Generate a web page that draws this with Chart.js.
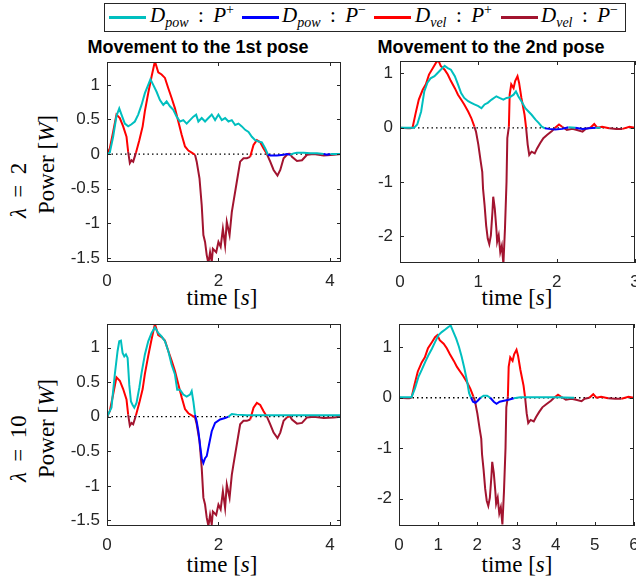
<!DOCTYPE html>
<html lang="en">
<head>
<meta charset="UTF-8" />
<title>Power - D_pow vs D_vel</title>
<script src="https://cdn.jsdelivr.net/npm/chart.js"></script>
<style>
  body { margin: 0; width: 636px; height: 581px; overflow: hidden; background: #fff; position: relative; font-family: "Liberation Sans", Arial, sans-serif; }
  .plot { position: absolute; }
  .legend { position: absolute; left: 104px; top: 3px; width: 520px; height: 27px; border: 1px solid #262626; background: #fff; }
  .sw { position: absolute; top: 12px; height: 3px; width: 37px; }
  .lt { position: absolute; top: -2px; font-family: "Liberation Serif", serif; font-size: 21px; line-height: 27px; white-space: nowrap; color: #000; }
  .lt sub, .lt sup { font-size: 14px; line-height: 0; }
  .lt sub { font-style: italic; }
  .title { position: absolute; top: 37px; font-weight: bold; font-size: 18px; line-height: 20px; white-space: nowrap; transform: translateX(-50%); color: #000; }
  .xl { position: absolute; font-family: "Liberation Serif", serif; font-size: 23px; line-height: 26px; white-space: nowrap; transform: translateX(-50%); color: #000; }
  .yl { position: absolute; font-family: "Liberation Serif", serif; font-size: 23px; line-height: 26px; white-space: nowrap; transform-origin: 0 0; transform: rotate(-90deg); color: #000; }
</style>
</head>
<body>
  <div class="legend">
    <span class="sw" style="left:4px;background:#00bfbf"></span>
    <span class="lt" style="left:45px"><i>D</i><sub>pow</sub> &thinsp;:&thinsp; <i>P</i><sup>+</sup></span>
    <span class="sw" style="left:137px;background:#0000ff"></span>
    <span class="lt" style="left:177px"><i>D</i><sub>pow</sub> &thinsp;:&thinsp; <i>P</i><sup>&minus;</sup></span>
    <span class="sw" style="left:269px;background:#ff0000"></span>
    <span class="lt" style="left:310px"><i>D</i><sub>vel</sub> &thinsp;:&thinsp; <i>P</i><sup>+</sup></span>
    <span class="sw" style="left:396px;background:#a2142f"></span>
    <span class="lt" style="left:436px"><i>D</i><sub>vel</sub> &thinsp;:&thinsp; <i>P</i><sup>&minus;</sup></span>
  </div>

  <div class="title" style="left:198px">Movement to the 1st pose</div>
  <div class="title" style="left:491px">Movement to the 2nd pose</div>

  <div class="yl" style="left:6px;top:218px"><i>&lambda;</i> &thinsp;= &thinsp;2</div>
  <div class="yl" style="left:34px;top:214px">Power [<i>W</i>]</div>
  <div class="yl" style="left:6px;top:482px"><i>&lambda;</i> &thinsp;= &thinsp;10</div>
  <div class="yl" style="left:34px;top:478px">Power [<i>W</i>]</div>

  <div class="xl" style="left:222px;top:285px">time [<i>s</i>]</div>
  <div class="xl" style="left:517px;top:285px">time [<i>s</i>]</div>
  <div class="xl" style="left:222px;top:552px">time [<i>s</i>]</div>
  <div class="xl" style="left:517px;top:552px">time [<i>s</i>]</div>

  <div class="plot" id="p1"><canvas id="c1"></canvas></div>
  <div class="plot" id="p2"><canvas id="c2"></canvas></div>
  <div class="plot" id="p3"><canvas id="c3"></canvas></div>
  <div class="plot" id="p4"><canvas id="c4"></canvas></div>

<script>
// ---- data (time in s, power in W) ----

// lambda = 2, 1st pose
const powTime1 = [0, 0.05, 0.11, 0.17, 0.22, 0.26, 0.32, 0.38, 0.44, 0.50,
  0.56, 0.62, 0.68, 0.74, 0.78, 0.83, 0.89, 0.95, 1.01, 1.07,
  1.13, 1.19, 1.25, 1.31, 1.37, 1.43, 1.49, 1.55, 1.60, 1.64,
  1.70, 1.76, 1.82, 1.88, 1.94, 2.00, 2.06, 2.12, 2.18, 2.24,
  2.30, 2.36, 2.42, 2.48, 2.54, 2.60, 2.66, 2.72, 2.78, 2.84,
  2.89, 2.93, 3.05, 3.17, 3.23, 3.29, 3.35, 3.41, 3.53, 3.65,
  3.77, 3.89, 3.95, 4.01, 4.20];
const powPower1 = [0, 0.02, 0.25, 0.55, 0.66, 0.57, 0.44, 0.40, 0.43, 0.47,
  0.57, 0.71, 0.88, 1.00, 1.08, 1.00, 0.90, 0.78, 0.71, 0.76,
  0.69, 0.64, 0.54, 0.47, 0.49, 0.44, 0.49, 0.54, 0.57, 0.47,
  0.52, 0.47, 0.52, 0.57, 0.49, 0.57, 0.49, 0.52, 0.47, 0.49,
  0.42, 0.44, 0.40, 0.35, 0.32, 0.25, 0.20, 0.18, 0.17, 0.08,
  -0.01, -0.02, -0.02, -0.01, 0, -0.01, 0.01, 0.02, 0.02, 0.01,
  0.01, 0, -0.01, 0, 0];

// D_vel, 1st pose (same trace in both rows)
const velTime1 = [0, 0.05, 0.11, 0.17, 0.23, 0.29, 0.35, 0.38, 0.41, 0.44,
  0.47, 0.52, 0.58, 0.64, 0.68, 0.74, 0.80, 0.86, 0.92, 0.98,
  1.04, 1.10, 1.16, 1.22, 1.28, 1.34, 1.40, 1.46, 1.52, 1.58,
  1.61, 1.66, 1.70, 1.73, 1.76, 1.79, 1.82, 1.85, 1.88, 1.90,
  1.96, 2.00, 2.04, 2.08, 2.12, 2.15, 2.20, 2.24, 2.27, 2.33,
  2.39, 2.45, 2.51, 2.57, 2.63, 2.69, 2.75, 2.81, 2.87, 2.93,
  2.99, 3.06, 3.11, 3.17, 3.23, 3.28, 3.32, 3.41, 3.50, 3.59,
  3.71, 3.89, 4.07, 4.20];
const velPower1 = [0, 0.08, 0.32, 0.57, 0.52, 0.40, 0.25, 0.03, -0.13, -0.09,
  -0.11, 0.02, 0.20, 0.40, 0.62, 0.88, 1.12, 1.34, 1.18, 1.15,
  1.10, 0.95, 0.81, 0.66, 0.47, 0.28, 0.11, 0.05, 0.02, -0.01,
  -0.11, -0.35, -0.74, -1.17, -1.27, -1.46, -1.58, -1.42, -1.56, -1.37,
  -1.42, -1.27, -1.34, -1.08, -1.32, -0.98, -1.17, -0.84, -0.69, -0.40,
  -0.11, -0.06, -0.06, -0.04, 0.13, 0.20, 0.17, 0.08, 0, -0.11,
  -0.23, -0.31, -0.23, -0.06, -0.01, 0.01, -0.04, -0.10, -0.09, -0.01,
  0, -0.02, -0.01, 0];

// lambda = 2, 2nd pose
const powTime2 = [0, 0.18, 0.22, 0.27, 0.31, 0.35, 0.39, 0.44, 0.48, 0.52,
  0.57, 0.61, 0.65, 0.70, 0.74, 0.78, 0.82, 0.87, 0.91, 0.95,
  1.00, 1.04, 1.08, 1.12, 1.17, 1.23, 1.27, 1.32, 1.36, 1.40,
  1.45, 1.48, 1.51, 1.55, 1.60, 1.64, 1.68, 1.73, 1.77, 1.81,
  1.85, 1.90, 1.98, 2.07, 2.15, 2.24, 2.33, 2.41, 2.50, 2.56];
const powPower2 = [0, 0, 0.06, 0.30, 0.67, 0.83, 0.91, 0.95, 1.01, 1.07,
  1.14, 1.10, 1.07, 0.95, 0.80, 0.64, 0.55, 0.49, 0.46, 0.43,
  0.40, 0.36, 0.43, 0.46, 0.52, 0.58, 0.55, 0.52, 0.55, 0.56,
  0.61, 0.67, 0.58, 0.49, 0.36, 0.30, 0.24, 0.15, 0.09, 0.02,
  -0.01, -0.02, -0.03, -0.02, 0.01, 0, -0.02, -0.01, 0, 0];

// D_vel, 2nd pose (lambda = 2 time base)
const velTime2 = [0, 0.10, 0.13, 0.16, 0.20, 0.24, 0.29, 0.33, 0.37, 0.42,
  0.46, 0.49, 0.52, 0.57, 0.61, 0.65, 0.70, 0.74, 0.78, 0.82,
  0.87, 0.91, 0.95, 0.97, 1.00, 1.03, 1.05, 1.06, 1.08, 1.10,
  1.12, 1.14, 1.16, 1.18, 1.19, 1.21, 1.23, 1.24, 1.26, 1.28,
  1.30, 1.32, 1.34, 1.36, 1.37, 1.39, 1.40, 1.42, 1.45, 1.47,
  1.50, 1.52, 1.55, 1.59, 1.61, 1.63, 1.65, 1.68, 1.72, 1.75,
  1.79, 1.83, 1.88, 1.94, 1.98, 2.03, 2.07, 2.13, 2.20, 2.26,
  2.33, 2.37, 2.43, 2.48, 2.52, 2.58, 2.67, 2.76, 2.84, 2.93,
  3.00];
const velPower2 = [0, -0.01, -0.01, 0, 0.27, 0.52, 0.70, 0.80, 0.98, 1.10,
  1.20, 1.24, 1.14, 1.07, 0.98, 0.86, 0.73, 0.61, 0.52, 0.43,
  0.30, 0.18, 0.02, -0.07, -0.31, -0.62, -0.81, -1.12, -1.43, -1.80,
  -2.04, -2.14, -1.98, -1.55, -1.27, -1.49, -1.86, -2.10, -1.98, -2.29,
  -2.17, -2.51, -1.86, -0.99, -0.19, 0.02, 0.61, 0.80, 0.73, 0.86,
  0.95, 0.83, 0.55, 0.24, 0, -0.31, -0.50, -0.44, -0.47, -0.38,
  -0.28, -0.19, -0.13, -0.06, 0, 0.06, 0.02, -0.04, -0.02, -0.04,
  -0.07, -0.02, 0, 0.07, 0, 0.02, -0.01, -0.02, -0.02, 0.02,
  0];

// lambda = 10, 1st pose
const powTime3 = [0, 0.08, 0.14, 0.19, 0.22, 0.25, 0.28, 0.31, 0.34, 0.37,
  0.40, 0.43, 0.46, 0.49, 0.53, 0.58, 0.62, 0.68, 0.74, 0.80,
  0.86, 0.92, 0.98, 1.04, 1.10, 1.16, 1.22, 1.26, 1.31, 1.37,
  1.43, 1.49, 1.52, 1.55, 1.58, 1.61, 1.64, 1.67, 1.70, 1.73,
  1.76, 1.79, 1.83, 1.88, 1.94, 2.03, 2.12, 2.18, 2.24, 2.33,
  2.51, 4.20];
const powPower3 = [0, 0.13, 0.61, 0.95, 1.09, 1.10, 0.92, 0.87, 0.90, 0.85,
  0.46, 0.22, 0.17, 0.13, 0.20, 0.42, 0.63, 0.90, 1.09, 1.21,
  1.29, 1.21, 1.16, 1.09, 0.95, 0.75, 0.61, 0.39, 0.39, 0.32,
  0.29, 0.32, 0.37, 0.22, 0.03, -0.07, -0.21, -0.41, -0.60, -0.67,
  -0.60, -0.57, -0.41, -0.21, -0.09, -0.04, -0.02, 0, 0.04, 0.03,
  0.02, 0.02];

// lambda = 10, 2nd pose
const powTime4 = [0, 0.32, 0.41, 0.50, 0.58, 0.67, 0.75, 0.84, 0.92, 1.01,
  1.09, 1.18, 1.26, 1.32, 1.39, 1.46, 1.53, 1.60, 1.67, 1.74,
  1.79, 1.84, 1.89, 1.95, 2.01, 2.08, 2.16, 2.25, 2.33, 2.42,
  2.49, 2.57, 2.68, 2.80, 2.93, 3.10, 3.44, 3.96, 4.47];
const powPower4 = [0.01, 0.01, 0.19, 0.42, 0.55, 0.71, 0.84, 0.97, 1.10, 1.24,
  1.30, 1.35, 1.40, 1.43, 1.30, 1.17, 1.01, 0.81, 0.58, 0.32,
  0.09, 0, -0.08, -0.10, -0.06, 0, 0.04, 0.04, 0, -0.08,
  -0.12, -0.08, -0.06, -0.04, -0.01, 0.01, 0.01, 0.01, 0];

// D_vel, 2nd pose on the lambda = 10 time base
const velTime4 = [0, 0.20, 0.26, 0.32, 0.40, 0.48, 0.58, 0.66, 0.74, 0.84,
  0.92, 0.98, 1.04, 1.14, 1.22, 1.30, 1.40, 1.48, 1.56, 1.64,
  1.74, 1.82, 1.90, 1.94, 2.00, 2.06, 2.10, 2.12, 2.16, 2.20,
  2.24, 2.28, 2.32, 2.36, 2.38, 2.42, 2.46, 2.48, 2.52, 2.56,
  2.60, 2.64, 2.68, 2.72, 2.74, 2.78, 2.80, 2.84, 2.90, 2.94,
  3.00, 3.04, 3.10, 3.18, 3.22, 3.26, 3.30, 3.36, 3.44, 3.50,
  3.58, 3.66, 3.76, 3.88, 3.96, 4.06, 4.14, 4.26, 4.40, 4.52,
  4.66, 4.74, 4.86, 4.96, 5.04, 5.16, 5.34, 5.52, 5.68, 5.86,
  6.00];

// axis limits and ticks
const xRange1 = [0, 4.2], xRange2 = [0, 3], xRange4 = [0, 6];
const yRange1 = [-1.56, 1.33], yRange2 = [-2.49, 1.23], yRange3 = [-1.58, 1.34], yRange4 = [-2.54, 1.46];
const xTicks1 = [0, 2, 4];
const xTicks2 = [0, 1, 2, 3];
const xTicks4 = [0, 1, 2, 3, 4, 5, 6];
const yTicksSmall = [-1.5, -1, -0.5, 0, 0.5, 1];
const yTicksLarge = [-2, -1, 0, 1];

// ---- colours ----
const CYAN = "#00bfbf", BLUE = "#0000ff", RED = "#ff0000", DARKRED = "#a2142f";
const AXIS = "#262626";

// box + inward tick marks like matlab
const frame = {
  id: "frame",
  afterDraw(chart) {
    const { ctx, chartArea: a, scales } = chart;
    const tl = 4;
    ctx.save();
    ctx.strokeStyle = AXIS;
    ctx.lineWidth = 1;
    ctx.strokeRect(a.left + 0.5, a.top + 0.5, a.right - a.left - 1, a.bottom - a.top - 1);
    ctx.beginPath();
    scales.x.ticks.forEach((t) => {
      const px = Math.round(scales.x.getPixelForValue(t.value)) + 0.5;
      ctx.moveTo(px, a.bottom); ctx.lineTo(px, a.bottom - tl);
      ctx.moveTo(px, a.top); ctx.lineTo(px, a.top + tl);
    });
    scales.y.ticks.forEach((t) => {
      const py = Math.round(scales.y.getPixelForValue(t.value)) + 0.5;
      ctx.moveTo(a.left, py); ctx.lineTo(a.left + tl, py);
      ctx.moveTo(a.right, py); ctx.lineTo(a.right - tl, py);
    });
    ctx.stroke();
    ctx.restore();
  },
};

// one dataset per signal, coloured by sign (P+ / P-)
function signLine(t, v, pos, neg) {
  return {
    data: t.map((x, i) => ({ x: x, y: v[i] })),
    borderColor: pos,
    borderWidth: 2,
    pointRadius: 0,
    tension: 0,
    segment: {
      borderColor: (c) => (c.p0.parsed.y + c.p1.parsed.y >= 0 ? pos : neg),
    },
  };
}

function makePlot(n, box, xr, yr, xt, yt, pow, vel) {
  const padL = 60, padT = 10, padR = 12, padB = 34;
  const div = document.getElementById("p" + n);
  div.style.left = box.l - padL + "px";
  div.style.top = box.t - padT + "px";
  const canvas = document.getElementById("c" + n);
  canvas.width = box.w + padL + padR;
  canvas.height = box.h + padT + padB;

  const tickFont = { family: "'Liberation Sans', Arial, sans-serif", size: 17 };

  new Chart(canvas, {
    type: "line",
    data: {
      datasets: [
        signLine(pow.t, pow.v, CYAN, BLUE),
        signLine(vel.t, vel.v, RED, DARKRED),
        {
          data: [{ x: xr[0], y: 0 }, { x: xr[1], y: 0 }],
          borderColor: "#000",
          borderWidth: 1.3,
          borderDash: [1.5, 3],
          pointRadius: 0,
        },
      ],
    },
    options: {
      responsive: false,
      animation: false,
      devicePixelRatio: 1,
      layout: { padding: { left: 0, top: padT, right: padR, bottom: 0 } },
      plugins: { legend: { display: false }, tooltip: { enabled: false } },
      scales: {
        x: {
          type: "linear",
          min: xr[0],
          max: xr[1],
          afterBuildTicks: (s) => { s.ticks = xt.map((v) => ({ value: v })); },
          afterFit: (s) => { s.height = padB; s.paddingLeft = 0; s.paddingRight = 0; },
          grid: { display: false, drawTicks: false },
          border: { display: false },
          ticks: { padding: 9, color: AXIS, font: tickFont, maxRotation: 0, autoSkip: false, callback: (v) => String(v) },
        },
        y: {
          min: yr[0],
          max: yr[1],
          afterBuildTicks: (s) => { s.ticks = yt.map((v) => ({ value: v })); },
          afterFit: (s) => { s.width = padL; s.paddingTop = 0; s.paddingBottom = 0; },
          grid: { display: false, drawTicks: false },
          border: { display: false },
          ticks: { padding: 7, color: AXIS, font: tickFont, autoSkip: false, callback: (v) => String(v) },
        },
      },
    },
    plugins: [frame],
  });
}

document.addEventListener("DOMContentLoaded", () => {
  makePlot(1, { l: 107, t: 62, w: 234, h: 200 }, xRange1, yRange1, xTicks1, yTicksSmall,
    { t: powTime1, v: powPower1 }, { t: velTime1, v: velPower1 });
  makePlot(2, { l: 400, t: 61, w: 235, h: 202 }, xRange2, yRange2, xTicks2, yTicksLarge,
    { t: powTime2, v: powPower2 }, { t: velTime2, v: velPower2 });
  makePlot(3, { l: 107, t: 324, w: 234, h: 202 }, xRange1, yRange3, xTicks1, yTicksSmall,
    { t: powTime3, v: powPower3 }, { t: velTime1, v: velPower1 });
  makePlot(4, { l: 399, t: 324, w: 235, h: 202 }, xRange4, yRange4, xTicks4, yTicksLarge,
    { t: powTime4, v: powPower4 }, { t: velTime4, v: velPower2 });
});
</script>
</body>
</html>
